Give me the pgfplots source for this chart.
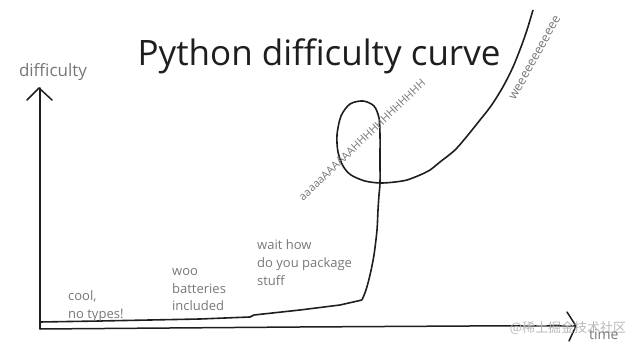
\documentclass[border=0pt]{standalone}
\usepackage{pgfplots}
\pgfplotsset{compat=1.18}
\usepackage{fontspec}
\setmainfont{Open Sans}
\newfontfamily\cjk{Noto Sans CJK SC}
\definecolor{ink}{HTML}{1E1E1E}
\definecolor{note}{HTML}{777777}
\definecolor{wm}{HTML}{B8B8B8}
\begin{document}
\begin{tikzpicture}
\useasboundingbox (0,0) rectangle (641pt,347pt);
\begin{axis}[
  at={(0,0)}, anchor=south west,
  scale only axis, width=641pt, height=347pt,
  xmin=0, xmax=641, ymin=0, ymax=347, y dir=reverse,
  hide axis, clip=false,
]
% axes drawn by hand
\addplot[ink, line width=1.5pt, line cap=round] coordinates {(40,329) (40,88)};
\addplot[ink, line width=1.5pt, line cap=round, line join=round] coordinates {(27,100) (39,88) (52,100)};
\addplot[ink, line width=1.5pt, line cap=round] coordinates {(40,329) (300,327) (470,326) (575,326)};
\addplot[ink, line width=1.5pt, line cap=round, line join=round] coordinates {(567,312) (576,326) (569,341)};
% the curve: flat part
\addplot[ink, line width=1.6pt, line join=round] coordinates {
 (40,322) (100,321) (150,320) (200,319) (250,317) (254,315) (300,310) (340,305) (362,300)};
% the curve: rise, loop, and take-off
\addplot[ink, line width=1.6pt, smooth, tension=0.5] coordinates {
 (362,300) (366,290) (370,275) (374,255) (377,230) (378,210) (379,195) (380,183)
 (380,160) (380,135) (379,118) (374,106) (363,101) (350,104) (341,116) (337,135)
 (338,152) (343,166) (351,175) (365,181) (380,183) (395,182) (407,180) (420,175)
 (430,170) (440,162) (455,150) (468,135) (480,120) (488,110) (495,100) (504,85)
 (513,67) (521,47) (527,30) (533,10)};
% texts
\node[ink, anchor=base, inner sep=0pt, font=\fontsize{35}{40}\selectfont] at (axis cs:319,66) {Python difficulty curve};
\node[note, anchor=center, inner sep=0pt, font=\fontsize{17}{19}\selectfont] at (axis cs:53,72) {difficulty};
\node[note, anchor=west, inner sep=0pt, align=left, font=\fontsize{13}{17.5}\selectfont] at (axis cs:68,306) {cool,\\no types!};
\node[note, anchor=west, inner sep=0pt, align=left, font=\fontsize{13}{17.5}\selectfont] at (axis cs:172,290) {woo\\batteries\\included};
\node[note, anchor=west, inner sep=0pt, align=left, font=\fontsize{13}{18}\selectfont] at (axis cs:257,263) {wait how\\do you package\\stuff};
\node[note, anchor=center, inner sep=0pt, rotate=43.6, font=\fontsize{11}{13}\selectfont] at (axis cs:362,140) {aaaaaAAAAAAHHHHHHHHHHHH};
\node[note, anchor=center, inner sep=0pt, rotate=61, font=\fontsize{12.5}{14}\selectfont] at (axis cs:535,58) {weeeeeeeeeeee};
\node[wm, anchor=center, inner sep=0pt, font=\cjk\fontsize{13}{15}\selectfont] at (axis cs:568,328) {@稀土掘金技术社区};
\node[note, anchor=west, inner sep=0pt, font=\fontsize{14}{16}\selectfont] at (axis cs:589,334) {time};
\end{axis}
\end{tikzpicture}
\end{document}
